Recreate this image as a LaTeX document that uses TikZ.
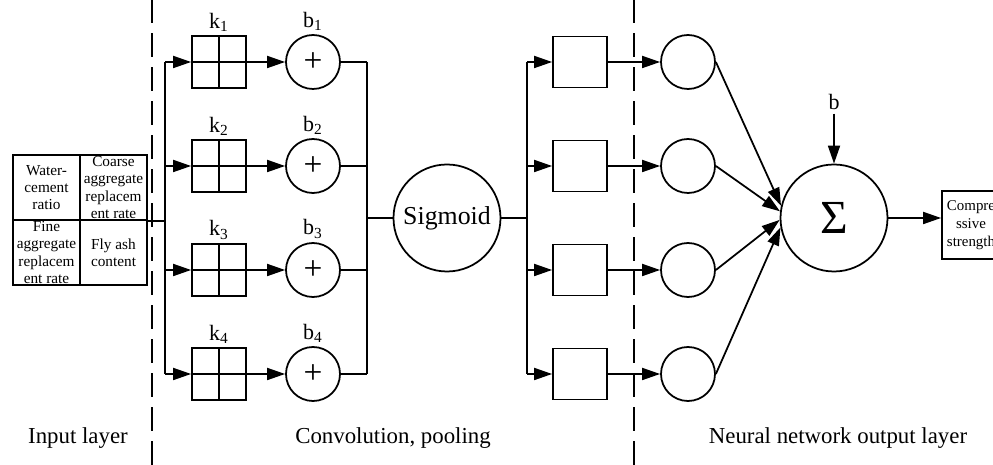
\documentclass[tikz,border=0pt]{standalone}
\usepackage{fontspec}
\setmainfont{Liberation Serif}
\usetikzlibrary{positioning, arrows.meta, calc}

\tikzset{
    >={Triangle[length=3.6mm,width=2.4mm]},
    conn/.style={line width=1pt},
    divider/.style={line width=0.75pt, dash pattern=on 0.48cm off 0.2cm},
    cell/.style={draw, line width=1pt, minimum width=1.34cm, minimum height=1.3cm,
        inner sep=0pt, align=center, font=\fontsize{8.7}{9.9}\selectfont},
    kernel/.style={draw, line width=1pt, minimum width=1.08cm, minimum height=1.04cm,
        inner sep=0pt,
        path picture={\draw[line width=1pt]
            (path picture bounding box.north) -- (path picture bounding box.south)
            (path picture bounding box.west) -- (path picture bounding box.east);}},
    adder/.style={circle, draw, line width=1pt, minimum size=1.08cm, inner sep=0pt,
        font=\fontsize{19}{19}\selectfont},
    lbl/.style={font=\fontsize{12.5}{14}\selectfont, inner sep=2pt},
    sig/.style={circle, draw, line width=1pt, minimum size=2.14cm, inner sep=0pt,
        font=\fontsize{14.7}{16}\selectfont},
    pool/.style={draw, line width=1pt, minimum width=1.08cm, minimum height=1.02cm, inner sep=0pt},
    neuron/.style={circle, draw, line width=1pt, minimum size=1.08cm, inner sep=0pt},
    sumnode/.style={circle, draw, line width=1pt, minimum size=2.14cm, inner sep=0pt,
        font=\fontsize{27}{27}\selectfont},
    outbox/.style={draw, line width=1pt, minimum width=1.16cm, minimum height=1.35cm,
        inner sep=0pt, align=center, font=\fontsize{8.5}{10.3}\selectfont},
    layer/.style={font=\fontsize{13}{15}\selectfont}
}

\begin{document}
\begin{tikzpicture}
    \useasboundingbox (0,0) rectangle (19.86,9.3);
    \clip (0,0) rectangle (19.86,9.3);

    % input table
    \node[cell] (wc) at (0.93,5.55) {Water-\\cement\\ratio};
    \node[cell] (ca) at (2.27,5.55) {Coarse\\aggregate\\replacem\\ent rate};
    \node[cell] (fa) at (0.93,4.25) {Fine\\aggregate\\replacem\\ent rate};
    \node[cell] (fly) at (2.27,4.25) {Fly ash\\content};

    % bus lines
    \coordinate (bus1) at (3.3,4.94);
    \coordinate (bus2) at (7.34,4.94);
    \coordinate (bus3) at (10.54,4.94);

    % the four branches
    \foreach \i/\y in {1/8.06, 2/5.98, 3/3.9, 4/1.82} {
        \node[kernel, label={[lbl]above:k\textsubscript{\i}}] (k\i) at (4.38,\y) {};
        \node[adder, label={[lbl]above:b\textsubscript{\i}}] (p\i) at (6.26,\y) {+};
        \node[pool] (m\i) at (11.6,\y) {};
        \node[neuron] (n\i) at (13.76,\y) {};

        \draw[conn, ->] (bus1 |- k\i) -- (k\i);
        \draw[conn, ->] (k\i) -- (p\i);
        \draw[conn] (p\i) -- (p\i -| bus2);
        \draw[conn, ->] (bus3 |- m\i) -- (m\i);
        \draw[conn, ->] (m\i) -- (n\i);
    }

    \node[sig] (sig) at (8.94,4.94) {Sigmoid};
    \node[sumnode] (sum) at (16.68,4.94) {Σ};
    \node[lbl] (bias) at (16.68,7.26) {b};
    \node[outbox] (out) at (19.42,4.8) {Compre\\ssive\\strength};

    \draw[conn] (ca.south east) -- (ca.south east -| bus1);
    \draw[conn] (bus1 |- k1) -- (bus1 |- k4);
    \draw[conn] (bus2 |- p1) -- (bus2 |- p4);
    \draw[conn] (bus2) -- (sig);
    \draw[conn] (sig) -- (bus3);
    \draw[conn] (bus3 |- m1) -- (bus3 |- m4);

    % output layer
    \path[conn, ->]
    (n1.east) edge (sum.167)
    (n2.east) edge (sum.173)
    (n3.east) edge (sum.182)
    (n4.east) edge (sum.190)
    (bias) edge (sum)
    (sum.east) edge (sum.east -| out.west)
    ;

    % layer borders
    \draw[divider] (3.04,0) -- (3.04,9.3);
    \draw[divider] (12.68,0) -- (12.68,9.3);

    \node[layer] (lin) at (1.56,0.54) {Input layer};
    \node[layer] (lconv) at (7.86,0.54) {Convolution, pooling};
    \node[layer] (lout) at (16.76,0.54) {Neural network output layer};
\end{tikzpicture}
\end{document}
